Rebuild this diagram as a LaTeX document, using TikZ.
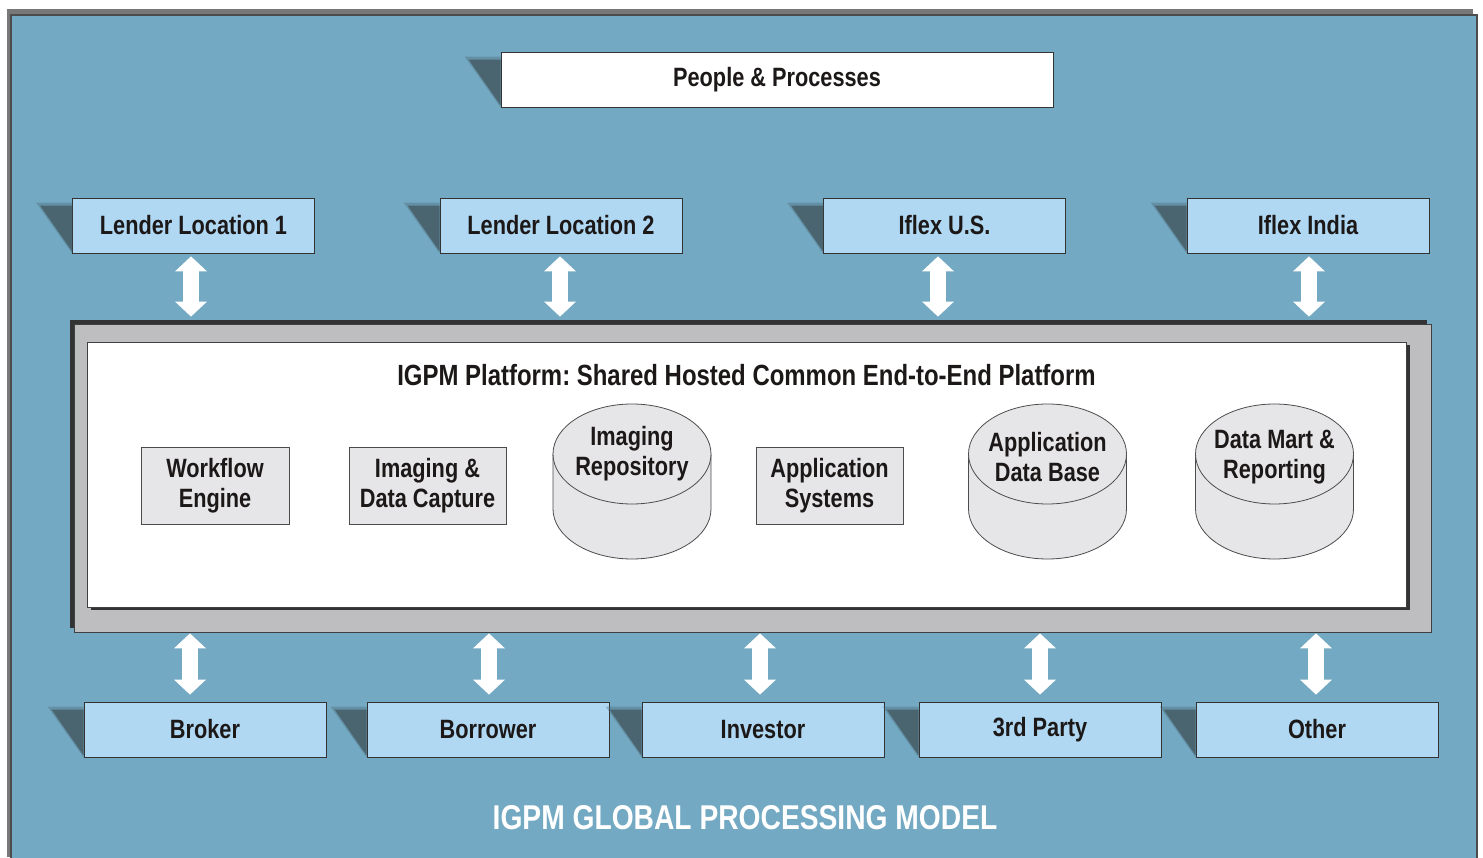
\documentclass[tikz,border=0pt]{standalone}
\usepackage{fontspec}
\setmainfont{Liberation Sans}[FakeStretch=0.82]
\usetikzlibrary{arrows.meta,shadows}
\definecolor{bgblue}{RGB}{115,169,194}
\definecolor{siteblue}{RGB}{176,216,243}
\definecolor{itemgray}{RGB}{230,230,232}
\definecolor{framegray}{RGB}{190,190,192}
\definecolor{shadeblue}{RGB}{74,100,112}
\definecolor{ink}{RGB}{28,24,24}
\frenchspacing
\begin{document}
\begin{tikzpicture}[x=0.5pt,y=0.5pt]
    % one pixel of the layout
    \def\px{0.5pt}
    % node style definition
    \tikzstyle{site} = [
    	draw=black!80, fill=siteblue, rectangle, text=ink,
    	minimum height=55*\px, minimum width=242*\px,
    	font=\bfseries\fontsize{13.25}{15}\selectfont ];
    \tikzstyle{item} = [
    	draw=black!70, fill=itemgray, rectangle, align=center, text=ink,
    	minimum height=77*\px, font=\bfseries\fontsize{13.25}{15}\selectfont ];
    \tikzstyle{drum} = [draw=black!70, fill=itemgray];
    \tikzstyle{drumtext} = [align=center, text=ink, font=\bfseries\fontsize{13.25}{15}\selectfont];
    \tikzstyle{shade} = [fill=shadeblue];
    \tikzstyle{link} = [white, line width=8pt,
    	{Triangle[length=7.5pt,width=16pt,line width=0pt]}-{Triangle[length=7.5pt,width=16pt,line width=0pt]}];
    % page and frame
    \useasboundingbox (0,0) rectangle (1483,857);
    \fill[black!53] (7,0) rectangle (1473,848);
    \filldraw[fill=bgblue, draw=black!70, line width=0.6pt] (11,-5) rectangle (1477,842);
    % people and sites
    \node[site, fill=white, minimum width=552*\px] (people) at (777,777.5) {People \& Processes};
    \foreach \name/\x/\txt in {lend1/193.5/Lender Location 1, lend2/561/Lender Location 2,
    	iflexus/944.5/Iflex U.S., iflexin/1308/Iflex India}
    {
    	\node[site] (\name) at (\x,631.5) {\txt};
    }
    \foreach \name/\x/\txt in {broker/205/Broker, borrower/488/Borrower, investor/763/Investor,
    	third/1040/3rd Party, other/1317/Other}
    {
    	\node[site] (\name) at (\x,127.5) {\txt};
    }
    % slanted shadows left of the boxes, with a soft edge
    \foreach \n in {people,lend1,lend2,iflexus,iflexin,broker,borrower,investor,third,other}
    {
    	\fill[shade, opacity=0.35] ([shift={(-36,-5)}]\n.north west) -- ([shift={(0,-5)}]\n.north west)
    		-- ([shift={(0,0)}]\n.south west) -- cycle;
    	\fill[shade] ([shift={(-32,-8)}]\n.north west) -- ([shift={(0,-8)}]\n.north west)
    		-- ([shift={(0,2)}]\n.south west) -- cycle;
    }
    % platform
    \node[draw=black!75, fill=framegray, minimum width=1357*\px, minimum height=308*\px,
    	drop shadow={shadow xshift=-2pt, shadow yshift=2pt, fill=black!80, opacity=1}] (pf) at (752.5,379) {};
    \node[draw=black!75, fill=white, minimum width=1319*\px, minimum height=265*\px,
    	drop shadow={shadow xshift=2pt, shadow yshift=-1.5pt, fill=black!80, opacity=1}] (inner) at (746.5,382.5) {};
    \node[text=ink, font=\bfseries\fontsize{14.6}{17}\selectfont] (pftitle) at ([yshift=-16.5pt]inner.north)
    	{IGPM Platform: Shared Hosted Common End-to-End Platform};
    \foreach \name/\x/\w/\txt in {workflow/215/148/Workflow\\Engine, capture/427.5/157/Imaging \&\\Data Capture,
    	appsys/829.5/147/Application\\Systems}
    {
    	\node[item, minimum width=\w*\px] (\name) at (\x,371.5) {\txt};
    }
    % data stores
    \foreach \name/\x/\dy/\txt in {repo/632/0/Imaging\\Repository, appdb/1047.5/-3/Application\\Data Base,
    	mart/1274.5/-3/Data Mart \&\\Reporting}
    {
    	\filldraw[drum] (\x-79,403) -- (\x-79,348) arc[start angle=180, end angle=360, x radius=79, y radius=50]
    		-- (\x+79,403) arc[start angle=0, end angle=180, x radius=79, y radius=50] -- cycle;
    	\draw[drum] (\x-79,403) arc[start angle=180, end angle=360, x radius=79, y radius=50];
    	\node[drumtext] (\name) at (\x,403+\dy) {\txt};
    }
    % two way links
    \foreach \n/\dx in {lend1/-2.5, lend2/-1, iflexus/-6.5, iflexin/1}
    {
    	\draw[link, shorten <=1.5pt, shorten >=3.5pt] ([xshift=\dx*\px]\n.south) -- ([xshift=\dx*\px]\n.south |- pf.north);
    }
    \foreach \n/\dx in {broker/-15, borrower/1, investor/-3, third/0, other/-1}
    {
    	\draw[link, shorten <=0.5pt, shorten >=3.5pt] ([xshift=\dx*\px]\n.north |- pf.south) -- ([xshift=\dx*\px]\n.north);
    }
    % caption
    \node[text=white, font=\bfseries\fontsize{17.2}{20}\selectfont] (model) at (745,39) {IGPM GLOBAL PROCESSING MODEL};
\end{tikzpicture}
\end{document}
